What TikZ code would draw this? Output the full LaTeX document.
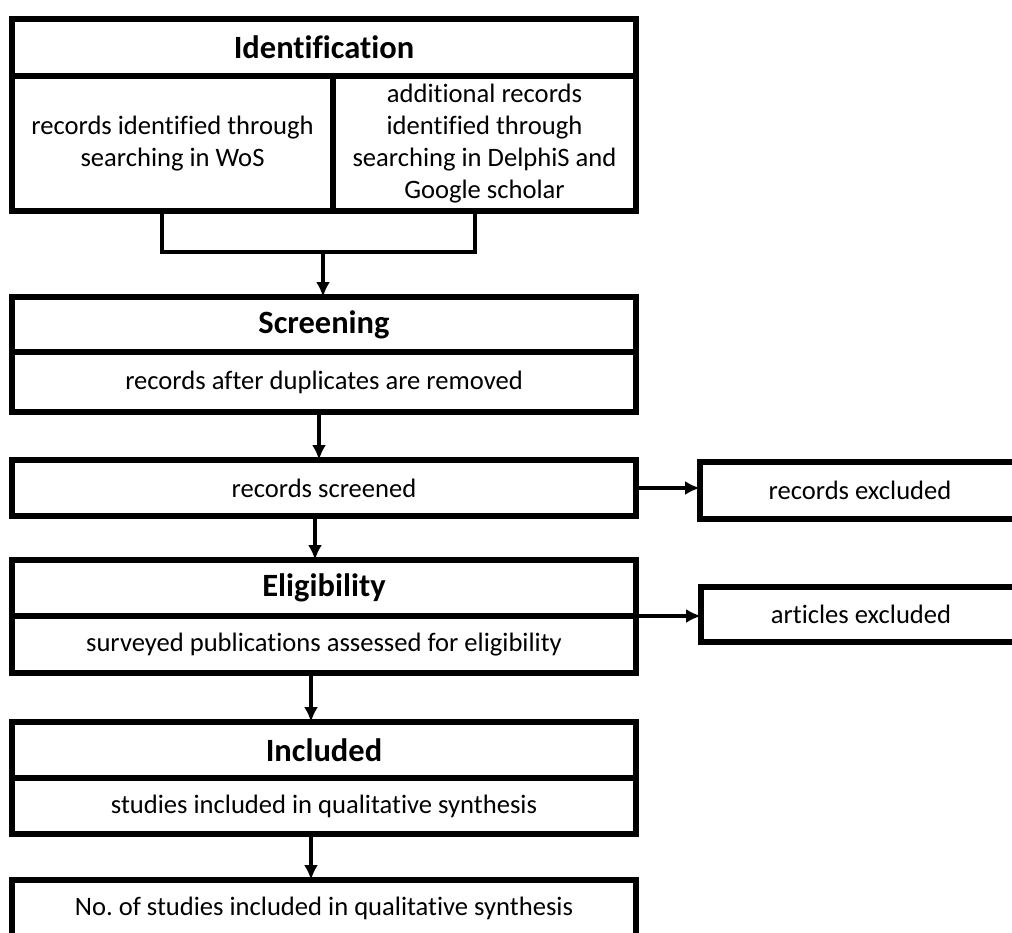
\documentclass[tikz,border=0pt]{standalone}
\usepackage{fontspec}
\setmainfont{Carlito}[Ligatures=NoCommon]
\usetikzlibrary{arrows.meta}
\frenchspacing

\begin{document}
\begin{tikzpicture}[x=1pt,y=-1pt,
  box/.style={draw,line width=5.5pt,inner sep=0pt,outer sep=0pt,anchor=north west,
    align=center,font=\fontsize{26.6}{32.3}\selectfont},
  head/.style={box,font=\bfseries\fontsize{32.5}{38}\selectfont},
  link/.style={line width=3.5pt},
  arr/.style={line width=3.3pt,-{Latex[length=15pt,width=14pt]}}
]
\useasboundingbox (0,0) rectangle (1012,932);
\clip (0,0) rectangle (1012,932);

%identification
\node[head,minimum width=624pt,minimum height=57pt] (ident) at (12,19) {Identification};
\node[box,minimum width=321pt,minimum height=135pt] (wos) at (12,76) {records identified through\\searching in WoS};
\node[box,minimum width=303pt,minimum height=135pt] (delphis) at (333,76) {additional records\\identified through\\searching in DelphiS and\\Google scholar};
%joining lines
\coordinate (jl) at (162,252);
\coordinate (jr) at (475,252);
\coordinate (jm) at (323,252);
\draw[link] (wos.south -| jl) -- (jl) -- (jr) -- (delphis.south -| jr);

%screening
\node[head,minimum width=624pt,minimum height=55pt] (scr) at (12,297) {Screening};
\node[box,minimum width=624pt,minimum height=60pt] (dup) at (12,352) {records after duplicates are removed};
\node[box,minimum width=624pt,minimum height=56pt] (rs) at (12,460) {records screened};
\node[box,minimum width=320pt,minimum height=57pt] (rex) at (700,462) {records excluded};

%eligibility
\node[head,minimum width=624pt,minimum height=56pt] (elig) at (12,560) {Eligibility};
\node[box,minimum width=624pt,minimum height=57pt] (assess) at (12,616) {surveyed publications assessed for eligibility};
\node[box,minimum width=320pt,minimum height=55pt] (aex) at (701,587) {articles excluded};

%included
\node[head,minimum width=624pt,minimum height=56pt] (incl) at (12,722) {Included};
\node[box,minimum width=624pt,minimum height=56pt] (syn) at (12,778) {studies included in qualitative synthesis};
\node[box,minimum width=624pt,minimum height=56pt] (nst) at (12,880) {No. of studies included in qualitative synthesis};

%arrows
\draw[arr] (jm) -- (scr.north -| jm);
\draw[arr] ([xshift=-5pt]dup.south) -- ([xshift=-5pt]rs.north);
\draw[arr] (rs.east) -- (rex.west |- rs.east);
\draw[arr] ([xshift=-9pt]rs.south) -- ([xshift=-9pt]elig.north);
\draw[arr] (elig.south east) -- (aex.west |- elig.south east);
\draw[arr] ([xshift=-13pt]assess.south) -- ([xshift=-13pt]incl.north);
\draw[arr] ([xshift=-13pt]syn.south) -- ([xshift=-13pt]nst.north);
\end{tikzpicture}
\end{document}
